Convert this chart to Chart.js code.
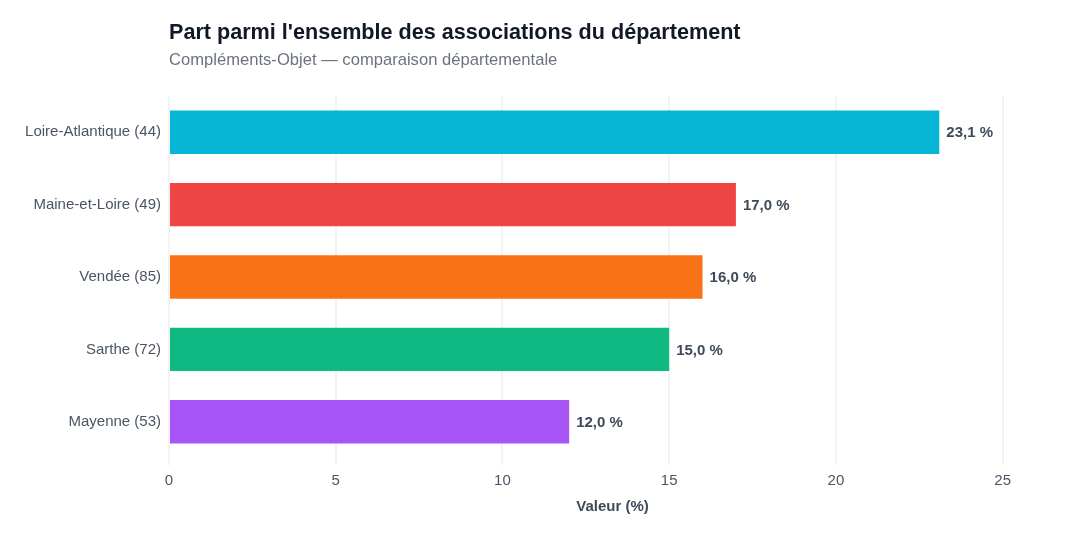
<!DOCTYPE html>
<html>
<head>
<meta charset="utf-8">
<script src="https://cdn.jsdelivr.net/npm/chart.js@4"></script>
<style>
  html, body { margin: 0; padding: 0; background: #ffffff; }
  #wrap { width: 1080px; height: 540px; position: relative; }
</style>
</head>
<body>
<div id="wrap"><canvas id="chart" width="1080" height="540"></canvas></div>
<script>
// données
const departements = ["Loire-Atlantique (44)", "Maine-et-Loire (49)", "Vendée (85)", "Sarthe (72)", "Mayenne (53)"];
const valeurs = [23.1, 17.0, 16.0, 15.0, 12.0];
const couleurs = ["#06b6d4", "#ef4444", "#f97316", "#10b981", "#a855f7"];
const ticksX = [0, 5, 10, 15, 20, 25];
const xMax = 26.6; // marge à droite pour les étiquettes

const titre = "Part parmi l'ensemble des associations du département";
const sousTitre = "Compléments-Objet — comparaison départementale";

const FONT = "'Liberation Sans', Arial, Helvetica, sans-serif";

// titre + sous-titre alignés sur la zone du graphique
const titlePlugin = {
    id: 'titres',
    afterDraw(chart) {
        const ctx = chart.ctx;
        const left = chart.chartArea.left;
        ctx.save();
        ctx.textAlign = 'left';
        ctx.textBaseline = 'middle';
        ctx.fillStyle = '#111827';
        ctx.font = `bold 21.6px ${FONT}`;
        ctx.fillText(titre, left, 33);
        ctx.fillStyle = '#6b7280';
        ctx.font = `16.6px ${FONT}`;
        ctx.fillText(sousTitre, left, 60);
        ctx.restore();
    }
};

// étiquettes de valeur au bout des barres
const valuePlugin = {
    id: 'valeurs',
    afterDatasetsDraw(chart) {
        const ctx = chart.ctx;
        const meta = chart.getDatasetMeta(0);
        ctx.save();
        ctx.font = `bold 15px ${FONT}`;
        ctx.fillStyle = '#3f4a5a';
        ctx.textAlign = 'left';
        ctx.textBaseline = 'middle';
        meta.data.forEach((bar, i) => {
            const txt = valeurs[i].toFixed(1).replace('.', ',') + ' %';
            ctx.fillText(txt, bar.x + 7, bar.y + 1);
        });
        ctx.restore();
    }
};

new Chart(document.getElementById('chart'), {
    type: 'bar',
    data: {
        labels: departements,
        datasets: [{
            data: valeurs,
            backgroundColor: couleurs,
            borderWidth: 0,
            barPercentage: 0.75,
            categoryPercentage: 0.8
        }]
    },
    options: {
        indexAxis: 'y',
        responsive: false,
        animation: false,
        layout: { padding: { top: 96, right: 24, left: 0, bottom: 0 } },
        plugins: {
            legend: { display: false },
            tooltip: { enabled: false }
        },
        scales: {
            x: {
                min: 0,
                max: xMax,
                afterFit(scale) { scale.height = 82; },
                afterBuildTicks(scale) { scale.ticks = ticksX.map(v => ({value: v})); },
                grid: { color: '#f1f3f6', lineWidth: 2, tickLength: 7, drawTicks: true, tickColor: '#f1f3f6' },
                border: { display: false },
                ticks: {
                    color: '#4b5563',
                    font: { family: FONT, size: 15 },
                    padding: 7
                },
                title: {
                    display: true,
                    text: 'Valeur (%)',
                    color: '#3f4a5a',
                    font: { family: FONT, size: 15, weight: 'bold' },
                    padding: { top: 0, bottom: 24 }
                }
            },
            y: {
                afterFit(scale) { scale.width = 169; },
                grid: { display: false, drawTicks: false },
                border: { display: false },
                ticks: {
                    color: '#4b5563',
                    font: { family: FONT, size: 15 },
                    padding: 8
                }
            }
        }
    },
    plugins: [titlePlugin, valuePlugin]
});
</script>
</body>
</html>
